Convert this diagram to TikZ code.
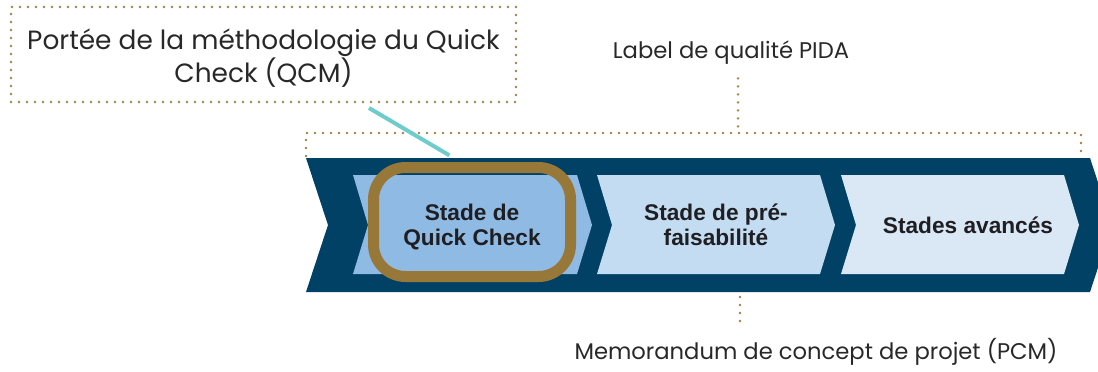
\documentclass[tikz,border=0pt]{standalone}
\usepackage{fontspec}
\setmainfont{Poppins}
\newfontfamily\stagefont{Liberation Sans}
\definecolor{navy}{RGB}{0,65,101}
\definecolor{chevA}{RGB}{143,186,227}
\definecolor{chevB}{RGB}{196,220,241}
\definecolor{chevC}{RGB}{218,232,246}
\definecolor{gold}{RGB}{152,120,56}
\definecolor{dotgold}{RGB}{160,128,64}
\definecolor{qcteal}{RGB}{110,204,204}
\definecolor{notegray}{RGB}{40,40,40}
\definecolor{stagedark}{RGB}{30,30,35}
\tikzset{
    every node/.style={inner sep=0mm, align=center}
}
\tikzset{
    dotline/.style={draw=dotgold, line width=2pt, line cap=round, dash pattern=on 0pt off 6pt},
    tealline/.style={draw=qcteal, line width=3pt},
    stagetext/.style={font=\stagefont\bfseries\fontsize{17}{18.75}\selectfont, text=stagedark},
    note/.style={font=\fontsize{17}{20}\selectfont, text=notegray},
    bignote/.style={font=\fontsize{19.8}{22.5}\selectfont, text=notegray}
}

\begin{document}
\begin{tikzpicture}[x=0.75pt, y=-0.75pt]
        \useasboundingbox (0,0) rectangle (1098,371);
        \clip (0,0) rectangle (1098,371);
        % band and stages
        \fill[navy] (306,158) -- (1090,158) -- (1112,225) -- (1090,292) -- (306,292) -- (328,225) -- cycle;
        \foreach \a/\b/\c in {353/577/chevA, 597/820/chevB, 841/1064/chevC}
                \fill[\c] (\a,175) -- (\b,175) -- (\b+15,225) -- (\b,274) -- (\a,274) -- (\a+15,225) -- cycle;
        \node[stagetext, draw=gold, line width=8.25pt, rounded corners=24pt, minimum width=147.75pt, minimum height=81.75pt] (qc) at (472,222) {\rule{0pt}{20pt}Stade de\\Quick Check};
        \node[stagetext] (pf) at (716,225) {Stade de pré-\\faisabilité};
        \node[stagetext] (sa) at (968,225) {Stades avancés};
        % notes
        \node[bignote, dotline, minimum width=378.75pt, minimum height=71.25pt] (qcm) at (263.5,54.5) {\rule{0pt}{21pt}Portée de la méthodologie du Quick\\Check (QCM)};
        \node[note] (pida) at (731,53) {Label de qualité PIDA};
        \node[note] (pcm) at (816,352) {Memorandum de concept de projet (PCM)};
        \coordinate (bl0) at (306,156);
        \coordinate (bl1) at (306,133);
        \coordinate (br1) at (1081,133);
        \coordinate (br0) at (1081,156);
        \coordinate (pidaEnd) at (738,133);
        \coordinate (pcmTop) at (740,297);
        \coordinate (tl) at (369,108);
        \draw[dotline] (bl0) -- (bl1) -- (br1) -- (br0);
        \draw[dotline] ([yshift=-10pt]pida.south -| pidaEnd) -- (pidaEnd);
        \draw[dotline] (pcmTop) -- ([yshift=9pt]pcm.north -| pcmTop);
        \draw[tealline] (tl) -- ([shift={(-17pt,5pt)}]qc.north);
\end{tikzpicture}
\end{document}
